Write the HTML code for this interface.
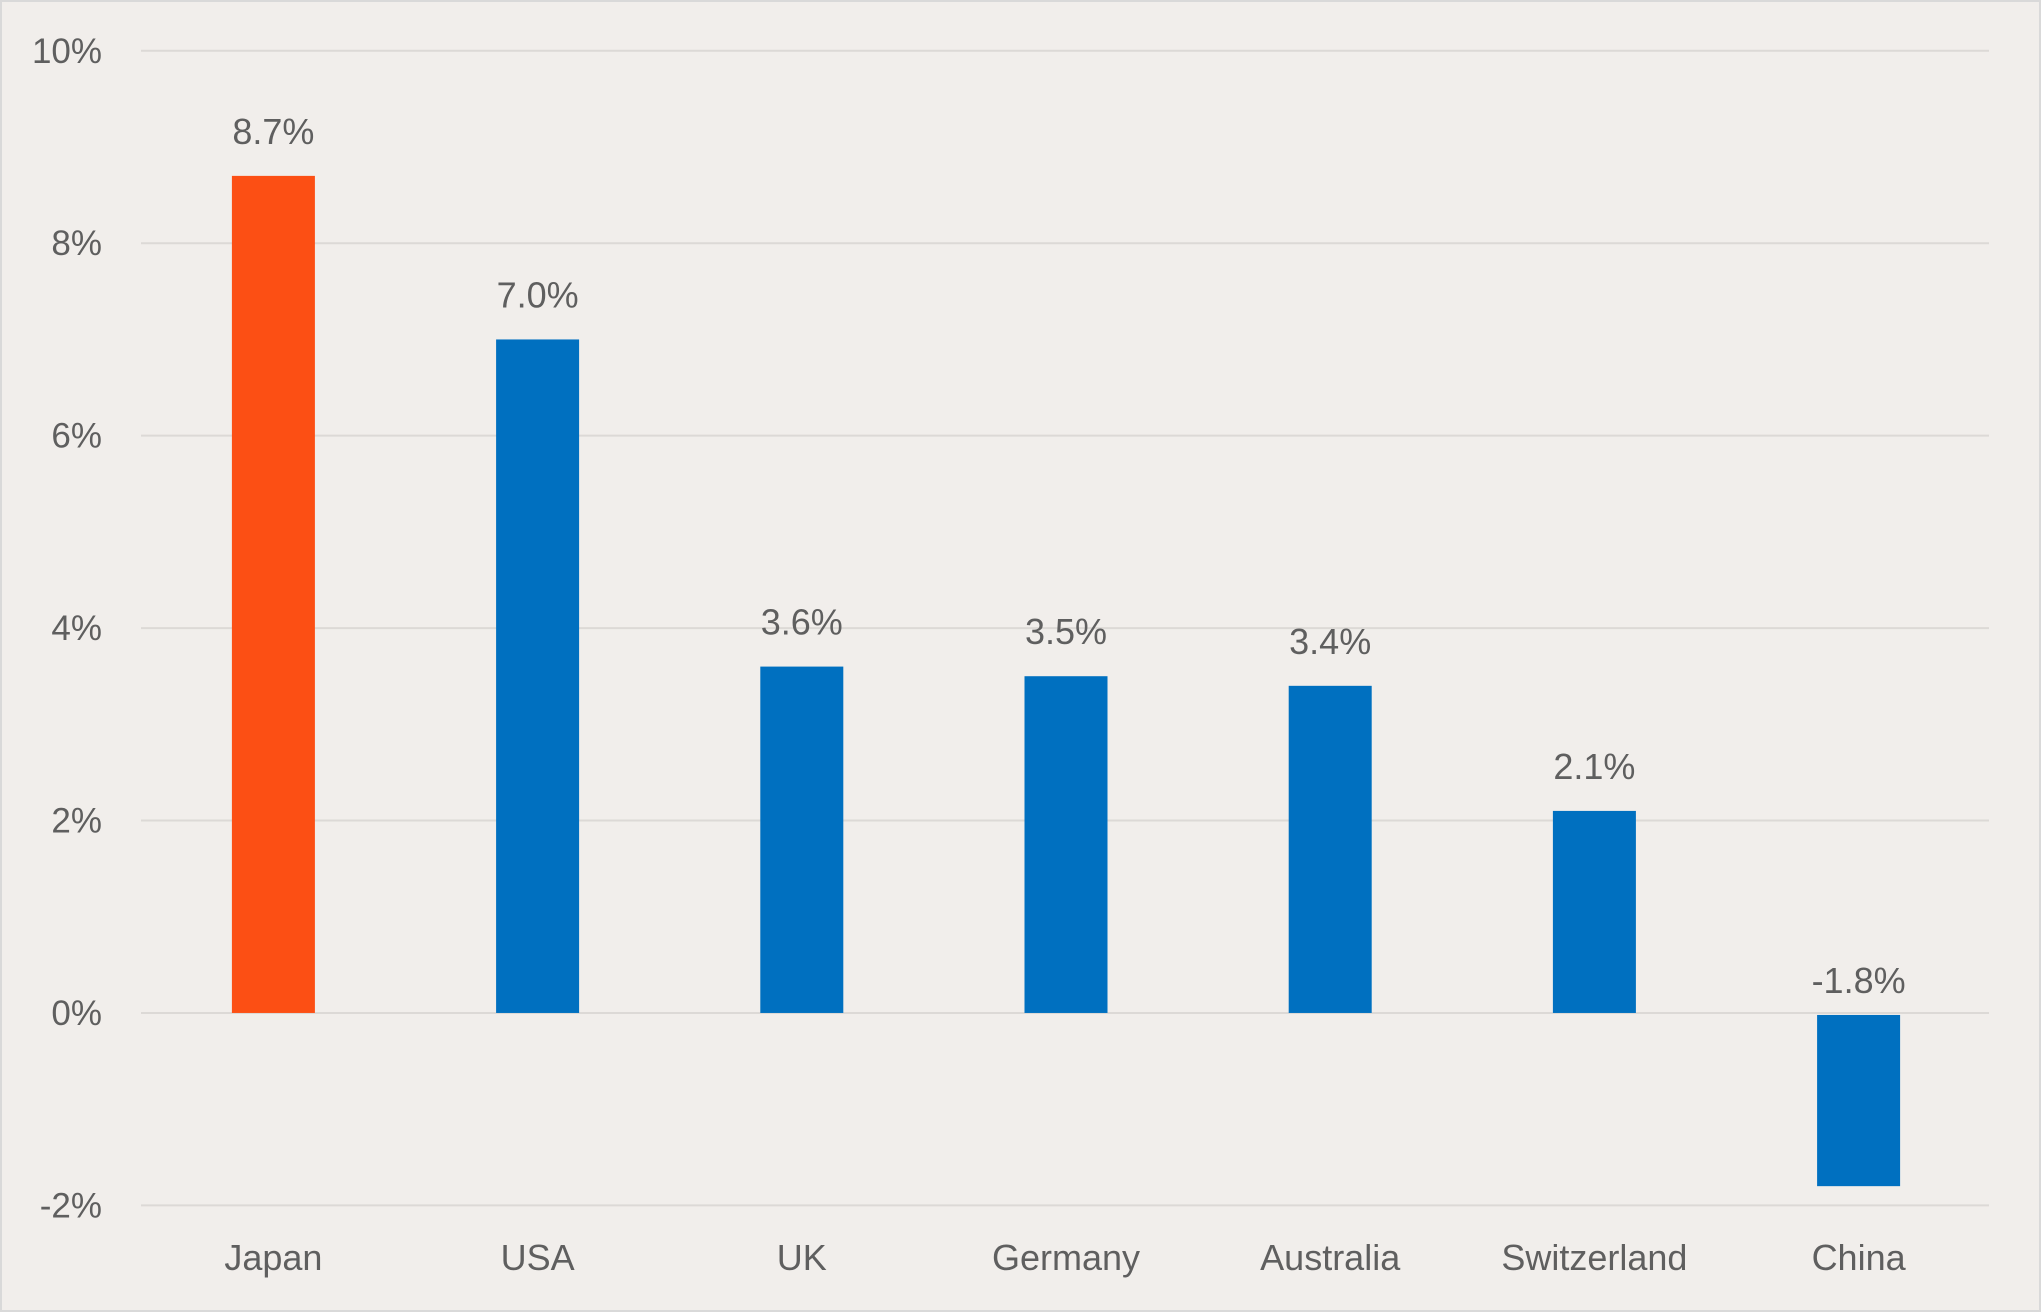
<!DOCTYPE html>
<html><head><meta charset="utf-8"><style>
html,body{margin:0;padding:0;background:#f1eeeb;}
svg{display:block;}
text{font-family:"Liberation Sans",sans-serif;fill:#5f5f5f;}
</style></head><body>
<svg id="chart" width="2041" height="1312" viewBox="0 0 2041 1312" xmlns="http://www.w3.org/2000/svg">
<rect x="1" y="1" width="2039" height="1310" fill="#f1eeeb" stroke="#d9d9d9" stroke-width="2"/>
<g id="grid"></g>
<g id="ylabels"></g>
<g id="bars"></g>
<g id="xlabels"></g>
</svg>
<script>
const categories = ["Japan","USA","UK","Germany","Australia","Switzerland","China"];
const values = [8.7,7.0,3.6,3.5,3.4,2.1,-1.8];
const valueLabels = ["8.7%","7.0%","3.6%","3.5%","3.4%","2.1%","-1.8%"];
const yTicks = [-2,0,2,4,6,8,10];
const yTickLabels = ["-2%","0%","2%","4%","6%","8%","10%"];
const highlight = [true,false,false,false,false,false,false];

const NS="http://www.w3.org/2000/svg";
const plotL=141, plotR=1989, yMin=-2, yMax=10, pyTop=50.8, pyBot=1205.4;
function y(v){return pyBot-(v-yMin)/(yMax-yMin)*(pyBot-pyTop);}
const step=264.2, firstC=273.4, bw=83;
function xc(i){return firstC+i*step;}
function mk(tag,attrs,parent){const e=document.createElementNS(NS,tag);for(const k in attrs)e.setAttribute(k,attrs[k]);parent.appendChild(e);return e;}
const grid=document.getElementById('grid'), yl=document.getElementById('ylabels'), bars=document.getElementById('bars'), xl=document.getElementById('xlabels');
yTicks.forEach((t,i)=>{
  const l=mk('line',{x1:plotL,x2:plotR,y1:y(t),y2:y(t),stroke:'#dcd9d6','stroke-width':2},grid);
  
  
  const tx=mk('text',{x:102,y:y(t)+12,'text-anchor':'end','font-size':35},yl);
  tx.textContent=yTickLabels[i];
  
  
});
categories.forEach((c,i)=>{
  const v=values[i];
  const top=Math.min(y(v),y(0)), h=Math.abs(y(v)-y(0));
  const r=mk('rect',{x:xc(i)-bw/2,y:top+(v<0?2:0),width:bw,height:h-(v<0?2:0),fill:highlight[i]?'#fc4f14':'#0070c0'},bars);
  
  
  const ly=v>=0?y(v)-32:y(0)-20;
  const t=mk('text',{x:xc(i),y:ly,'text-anchor':'middle','font-size':36},bars);
  t.textContent=valueLabels[i];
  
  
  const cx=mk('text',{x:xc(i),y:1270,'text-anchor':'middle','font-size':36},xl);
  cx.textContent=c;
  
  
});
</script>
</body></html>
